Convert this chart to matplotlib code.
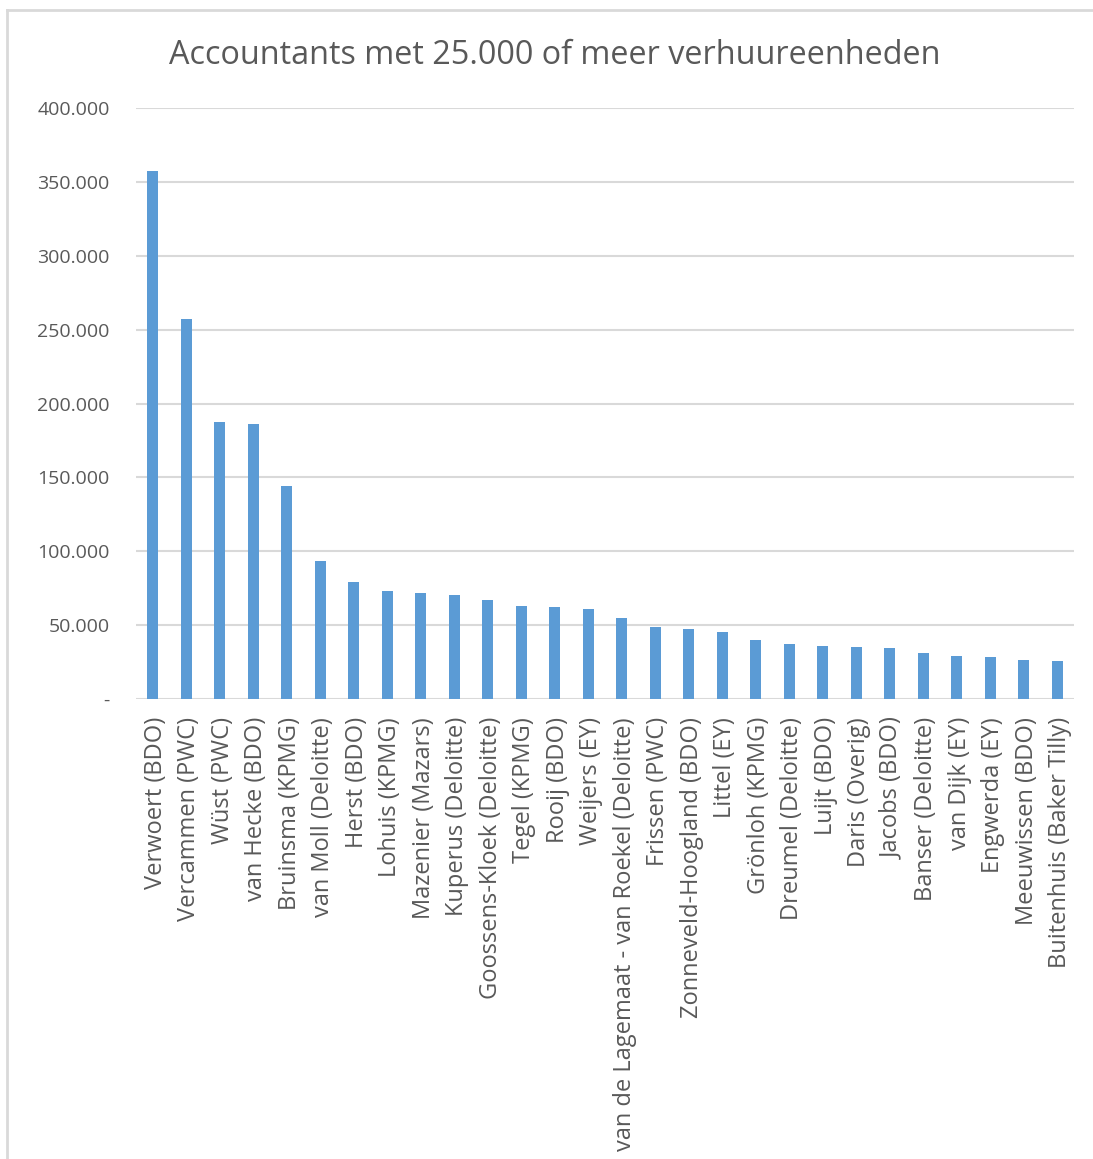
import matplotlib
matplotlib.use("Agg")
import matplotlib.pyplot as plt
from matplotlib.lines import Line2D
from matplotlib.transforms import ScaledTranslation

plt.rcParams['font.family'] = ['Open Sans', 'DejaVu Sans']

accountants = [
    "Verwoert (BDO)", "Vercammen (PWC)", "Wüst (PWC)", "van Hecke (BDO)",
    "Bruinsma (KPMG)", "van Moll (Deloitte)", "Herst (BDO)", "Lohuis (KPMG)",
    "Mazenier (Mazars)", "Kuperus (Deloitte)", "Goossens-Kloek (Deloitte)",
    "Tegel (KPMG)", "Rooij (BDO)", "Weijers (EY)",
    "van de Lagemaat - van Roekel (Deloitte)", "Frissen (PWC)",
    "Zonneveld-Hoogland (BDO)", "Littel (EY)", "Grönloh (KPMG)",
    "Dreumel (Deloitte)", "Luijt (BDO)", "Daris (Overig)", "Jacobs (BDO)",
    "Banser (Deloitte)", "van Dijk (EY)", "Engwerda (EY)", "Meeuwissen (BDO)",
    "Buitenhuis (Baker Tilly)",
]
eenheden = [
    357700, 257200, 187600, 186400, 144500, 93400, 78900, 73100,
    71600, 70700, 66700, 63100, 62000, 60600,
    55100, 48900, 47700, 45500, 40000, 37300, 35700, 35500, 34600,
    31400, 29400, 28100, 26200, 25800,
]
yticks = [0, 50000, 100000, 150000, 200000, 250000, 300000, 350000, 400000]
ytick_labels = ["-", "50.000", "100.000", "150.000", "200.000", "250.000",
                "300.000", "350.000", "400.000"]

tekst = "#595959"
raster = "#d9d9d9"

fig = plt.figure(figsize=(10.93, 11.59), dpi=100)
ax = fig.add_axes([0.1245, 0.3969, 0.858, 0.5099])

x = range(len(accountants))
ax.bar(x, eenheden, width=0.33, color="#5b9bd5", zorder=3)

ax.set_xlim(-0.5, len(accountants) - 0.5)
ax.set_ylim(0, 400000)
ax.set_yticks(yticks)
ax.set_yticklabels(ytick_labels)
ax.set_xticks(list(x))
ax.set_xticklabels(accountants, rotation=90)

ax.grid(axis="y", color=raster, linewidth=1.5, zorder=0)
for s in ax.spines.values():
    s.set_visible(False)
ax.tick_params(axis="y", length=0, pad=19, labelsize=14, labelcolor=tekst)
ax.tick_params(axis="x", length=0, pad=13, labelsize=17, labelcolor=tekst)

# labels iets naar rechts, zoals in Excel
schuif = ScaledTranslation(0.03, 0, fig.dpi_scale_trans)
for lbl in ax.get_xticklabels():
    lbl.set_transform(lbl.get_transform() + schuif)

fig.text(0.508, 0.952, "Accountants met 25.000 of meer verhuureenheden",
         ha="center", va="center", fontsize=23.3, color=tekst)

# kader van het diagram (boven en links)
fig.add_artist(Line2D([0.0064, 1.0], [0.9918, 0.9918], color=raster, linewidth=2))
fig.add_artist(Line2D([0.0064, 0.0064], [0.0, 0.9918], color=raster, linewidth=2))

fig.savefig("out.png", dpi=100, facecolor="white")
